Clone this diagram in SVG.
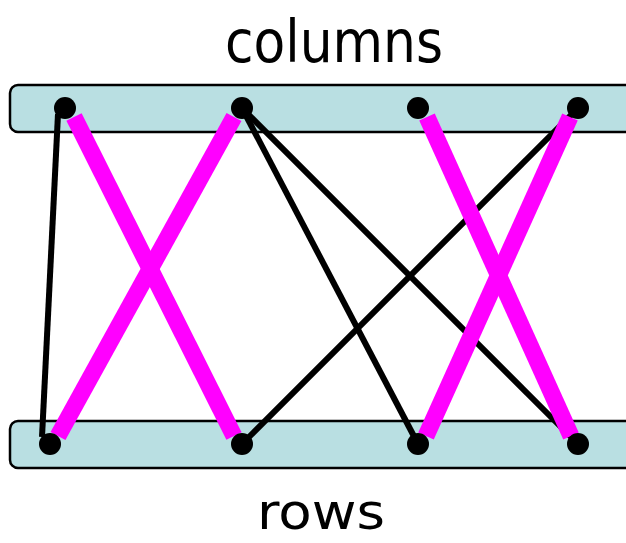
<svg xmlns="http://www.w3.org/2000/svg" width="626" height="543" viewBox="0 0 626 543">
<style>
.bar{fill:#b9dfe2;stroke:#000;stroke-width:2.5}
.blk{stroke:#000;stroke-width:6;fill:none}
.mag{stroke:#ff00ff;stroke-width:17;fill:none}
.dot{fill:#000}
.lbl{font-family:"Comic Sans MS","DejaVu Sans",sans-serif;font-size:58px;fill:#000}
</style>
<rect x="0" y="0" width="626" height="543" fill="#fff"/>
<g id="columns">
<rect class="bar" x="10" y="85" width="640" height="47" rx="8"/>
<text class="lbl" x="225" y="62" textLength="218" lengthAdjust="spacingAndGlyphs">columns</text>
</g>
<g id="rows">
<rect class="bar" x="10" y="421" width="640" height="47" rx="8"/>
<text class="lbl" x="257" y="529" style="font-size:50px" textLength="128" lengthAdjust="spacingAndGlyphs">rows</text>
</g>
<g id="connectors">
<line class="blk" x1="58" y1="114" x2="42" y2="437"/>
<line class="blk" x1="242" y1="108" x2="578" y2="444"/>
<line class="blk" x1="242" y1="108" x2="418" y2="444"/>
<line class="blk" x1="578" y1="108" x2="242" y2="444"/>
<line class="mag" x1="74" y1="117" x2="234" y2="436"/>
<line class="mag" x1="234" y1="117" x2="58" y2="436"/>
<line class="mag" x1="427" y1="117" x2="571" y2="436"/>
<line class="mag" x1="570" y1="117" x2="426" y2="436"/>
</g>
<g id="c1"><circle class="dot" cx="65" cy="108" r="11"/></g>
<g id="c2"><circle class="dot" cx="242" cy="108" r="11"/></g>
<g id="c3"><circle class="dot" cx="418" cy="108" r="11"/></g>
<g id="c4"><circle class="dot" cx="578" cy="108" r="11"/></g>
<g id="r1"><circle class="dot" cx="50" cy="444" r="11"/></g>
<g id="r2"><circle class="dot" cx="242" cy="444" r="11"/></g>
<g id="r3"><circle class="dot" cx="418" cy="444" r="11"/></g>
<g id="r4"><circle class="dot" cx="578" cy="444" r="11"/></g>
</svg>
